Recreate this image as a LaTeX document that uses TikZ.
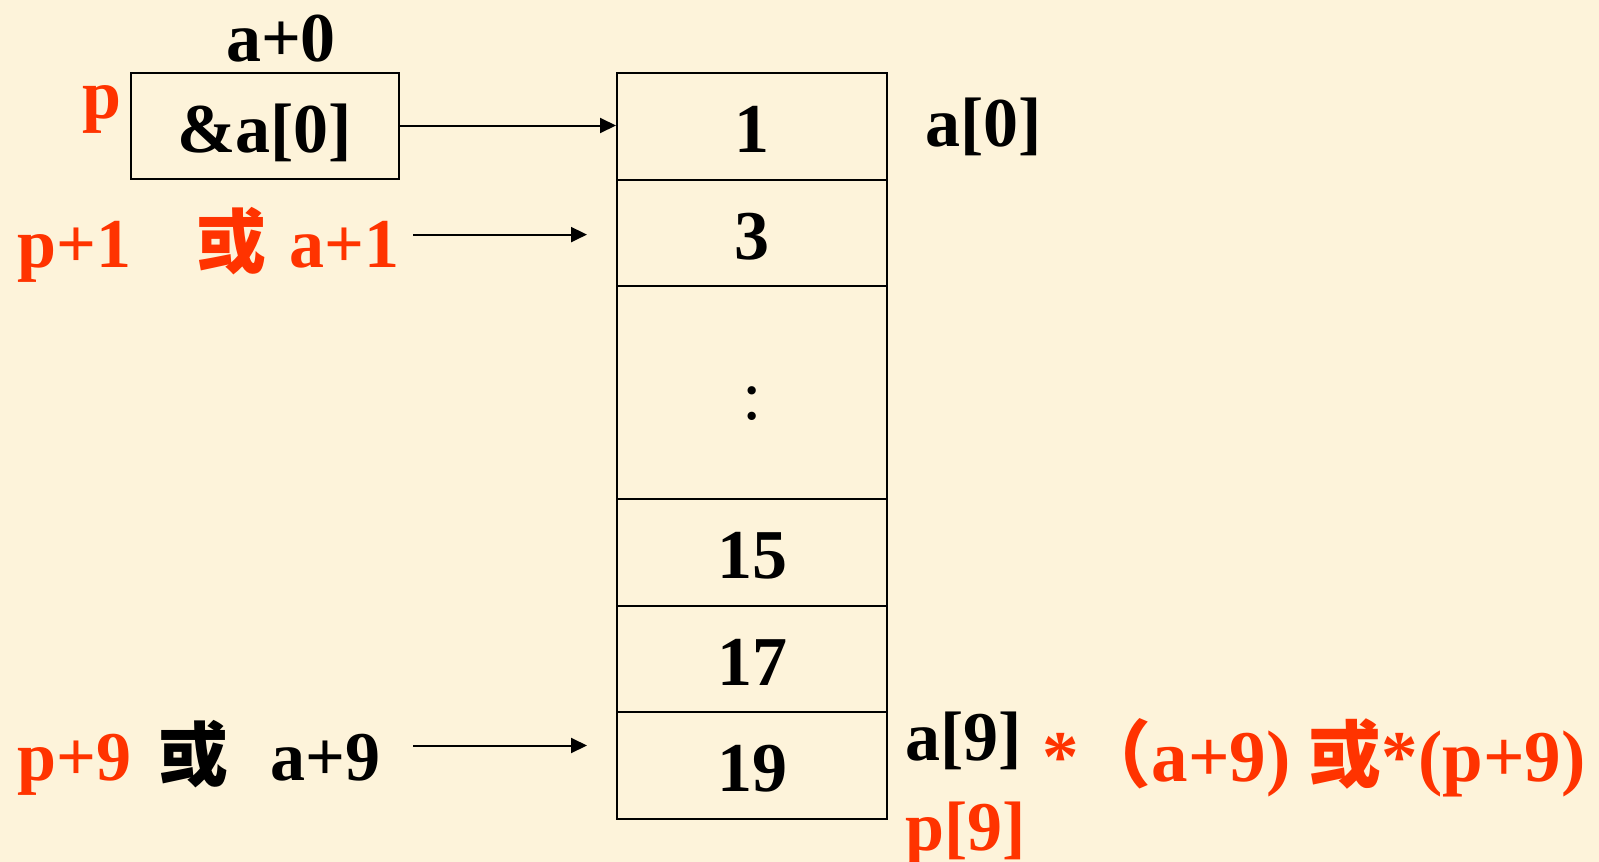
\documentclass[tikz,border=0pt]{standalone}
\usepackage{fontspec}
\setmainfont{Liberation Serif}
\newfontfamily\cjk{Noto Sans CJK SC}
\usetikzlibrary{arrows.meta}
\definecolor{bg}{RGB}{253,243,218}
\definecolor{hl}{RGB}{255,51,0}
\tikzset{
 txt/.style={font=\fontsize{70}{84}\selectfont\bfseries, inner sep=0pt, anchor=base west},
 cjkb/.style={font=\fontsize{70}{84}\selectfont\cjk\bfseries},
 cell/.style={draw, line width=2pt, minimum width=270pt, minimum height=106.5pt, inner sep=0pt,
   font=\fontsize{70}{84}\selectfont\bfseries, text height=53pt, text depth=0pt},
 arr/.style={-{Triangle[length=16pt,width=15pt]}, line width=2pt},
}
\begin{document}
\begin{tikzpicture}[x=1pt,y=-1pt]
\fill[bg] (0,0) rectangle (1599,862);
\useasboundingbox (0,0) rectangle (1599,862);
% array cells
\node[cell] (c1) at (752,126.25) {1};
\node[cell] (c2) at (752,232.75) {3};
\node[cell, minimum height=213pt, font=\fontsize{70}{84}\selectfont\mdseries] (cd) at (752,392.5) {:};
\node[cell] (c15) at (752,552.25) {15};
\node[cell] (c17) at (752,658.75) {17};
\node[cell] (c19) at (752,765.25) {19};
% pointer box
\node[cell, minimum width=268pt, minimum height=106pt] (pbox) at (264.6,125.5) {\&a[0]};
\node[txt, anchor=base] (a0) at (281,61) {a+0};
\node[txt, text=hl] (p) at (82,118) {p};
\node[txt] (el0) at (925,146) {a[0]};
% p+1 row
\node[txt, text=hl] (p1) at (17,267) {p+1};
\node[txt, cjkb, text=hl] (or1) at (196,267) {或};
\node[txt, text=hl] (a1) at (289,267) {a+1};
% p+9 row
\node[txt, text=hl] (p9) at (17,780) {p+9};
\node[txt, cjkb] (or2) at (158,780) {或};
\node[txt] (a9) at (270,780) {a+9};
\node[txt] (el9) at (905,760) {a[9]};
\node[txt, text=hl] (pp9) at (905,850) {p[9]};
\node[txt, text=hl, font=\fontsize{73}{88}\selectfont\bfseries] (deref) at (1042,781) {*{\cjk（}a+9) {\cjk 或}*(p+9)};
% arrows
\coordinate (s2) at (413,234.6);
\coordinate (s3) at (413,745.5);
\draw[arr] (pbox.east) -- (c1.west |- pbox.east);
\draw[arr, shorten >=29pt] (s2) -- (c2.west |- s2);
\draw[arr, shorten >=29pt] (s3) -- (c19.west |- s3);
\end{tikzpicture}
\end{document}
